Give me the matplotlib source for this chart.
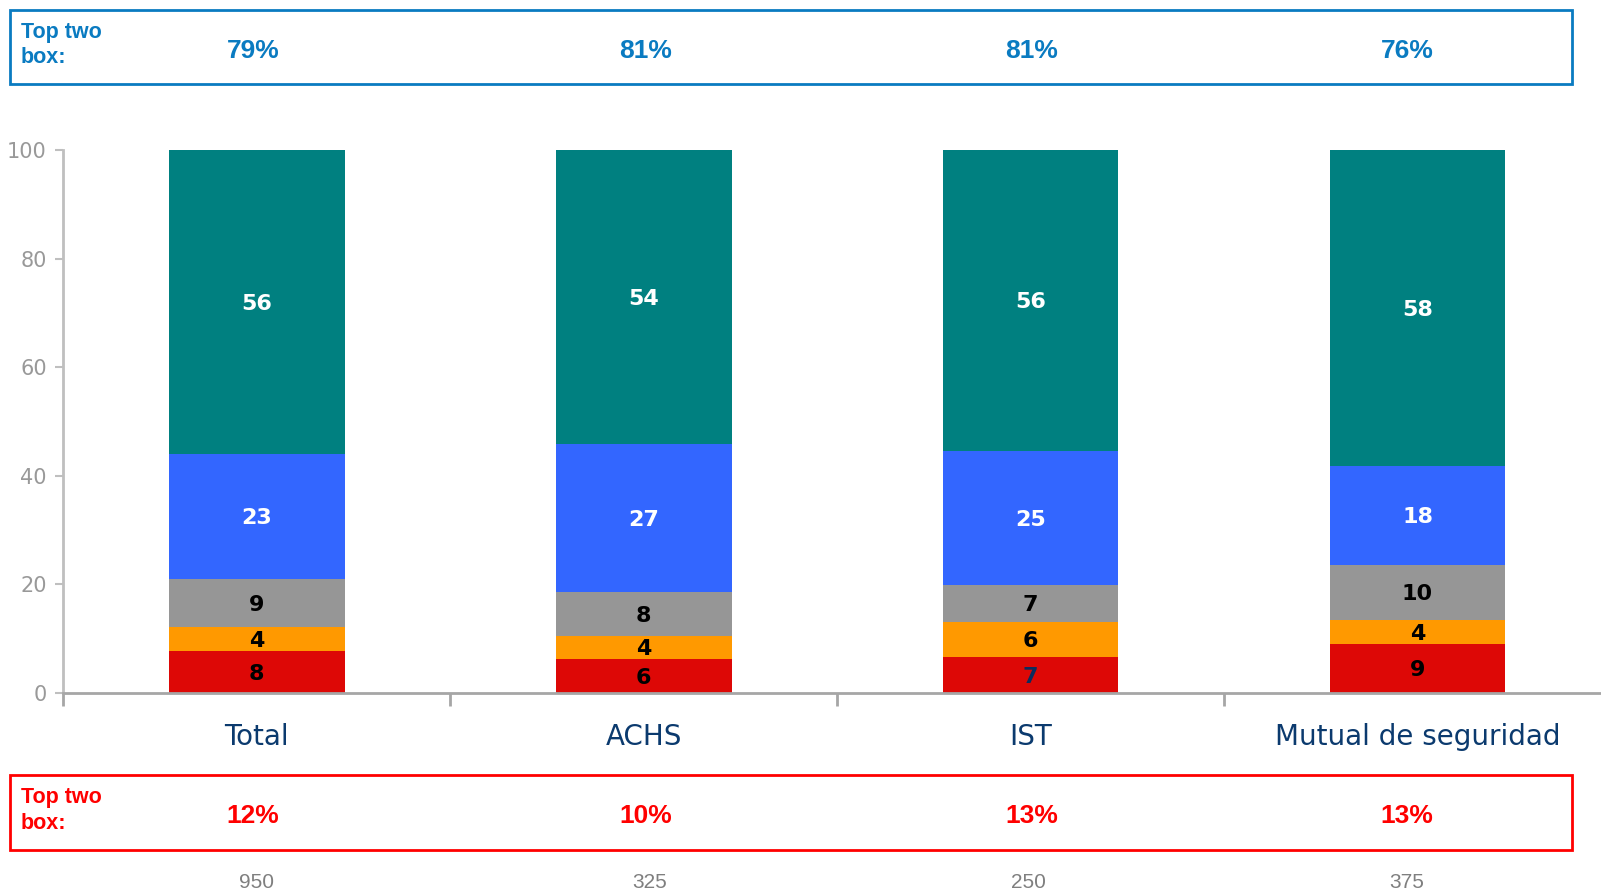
import numpy as np
import matplotlib
matplotlib.use("Agg")
import matplotlib.pyplot as plt
from matplotlib.patches import Rectangle

### Data (percent, stacked bottom -> top)
categories = ["Total", "ACHS", "IST", "Mutual de seguridad"]
muy_malo = [7.7, 6.2, 6.6, 9.0]
malo = [4.4, 4.3, 6.4, 4.4]
regular = [8.9, 8.1, 6.9, 10.2]
bueno = [23.0, 27.3, 24.6, 18.2]
muy_bueno = [56.0, 54.1, 55.5, 58.2]
top_two = ["79%", "81%", "81%", "76%"]
bottom_two = ["12%", "10%", "13%", "13%"]
base_n = ["950", "325", "250", "375"]

series = [muy_malo, malo, regular, bueno, muy_bueno]
colors = ["#DD0806", "#FF9900", "#969696", "#3366FF", "#008080"]
label_colors = ["black", "black", "black", "white", "white"]

W, H = 1601, 890
fig = plt.figure(figsize=(W / 100, H / 100), dpi=100)

def fx(px):
    return px / W

def fy(py):
    return 1 - py / H

### Axes placed in pixels (right edge runs past the figure, as in the original)
left, right, top, bottom = 63.3, 1611, 150, 693
ax = fig.add_axes([fx(left), fy(bottom), fx(right - left), (bottom - top) / H])

x = np.arange(len(categories))
width = 0.454
bottoms = np.zeros(len(categories))
for vals, col, lcol in zip(series, colors, label_colors):
    vals = np.array(vals)
    ax.bar(x, vals, width, bottom=bottoms, color=col, edgecolor="none", zorder=2)
    for i, v in enumerate(vals):
        c = lcol
        if col == "#DD0806" and i == 2:
            c = "#0B2D5E"
        ax.text(x[i], bottoms[i] + v / 2 - 0.3, str(int(round(v))), ha="center", va="center",
                fontsize=16, fontweight="bold", color=c, family="DejaVu Sans", zorder=3)
    bottoms += vals

ax.set_xlim(-0.5, 3.5)
ax.set_ylim(0, 100)
ax.set_yticks([0, 20, 40, 60, 80, 100])
axis_grey = "#A6A6A6"
for s in ["top", "right"]:
    ax.spines[s].set_visible(False)
ax.spines["left"].set_color("#BFBFBF")
ax.spines["left"].set_linewidth(2)
ax.spines["bottom"].set_color(axis_grey)
ax.spines["bottom"].set_linewidth(2)
ax.tick_params(axis="y", colors="#BFBFBF", labelcolor="#999999", labelsize=15,
               length=6, width=1.5, direction="out", pad=6)
ax.set_xticks([-0.5, 0.5, 1.5, 2.5])
ax.set_xticklabels([])
ax.tick_params(axis="x", colors=axis_grey, length=9, width=2, direction="out")

for i, cat in enumerate(categories):
    ax.text(x[i], -5.5, cat, ha="center", va="top", fontsize=20, color="#0B3A6E",
            transform=ax.transData, clip_on=False)

### Top two / bottom two boxes
box_x0, box_x1 = 10.2, 1572
pct_x = [253, 646, 1032, 1407]
n_x = [256, 650, 1028, 1407]

def draw_box(y0, y1, color, values):
    fig.patches.append(Rectangle((fx(box_x0), fy(y1)), fx(box_x1 - box_x0), (y1 - y0) / H,
                                 transform=fig.transFigure, fill=False, edgecolor=color, linewidth=2))
    fig.text(fx(21), fy((y0 + y1) / 2 - 2), "Top two\nbox:", ha="left", va="center", color=color,
             fontsize=15.5, fontweight="bold", family="Liberation Sans", linespacing=1.3)
    for px, v in zip(pct_x, values):
        fig.text(fx(px), fy((y0 + y1) / 2 + 4), v, ha="center", va="center", color=color,
                 fontsize=19, fontweight="bold", family="Liberation Sans")

draw_box(10.2, 83.7, "#0A7BC1", top_two)
draw_box(775, 849.5, "#FF0000", bottom_two)

for px, n in zip(n_x, base_n):
    fig.text(fx(px), fy(882), n, ha="center", va="center", color="#7F7F7F",
             fontsize=15, family="Liberation Sans")

plt.savefig("out.png", dpi=100)
